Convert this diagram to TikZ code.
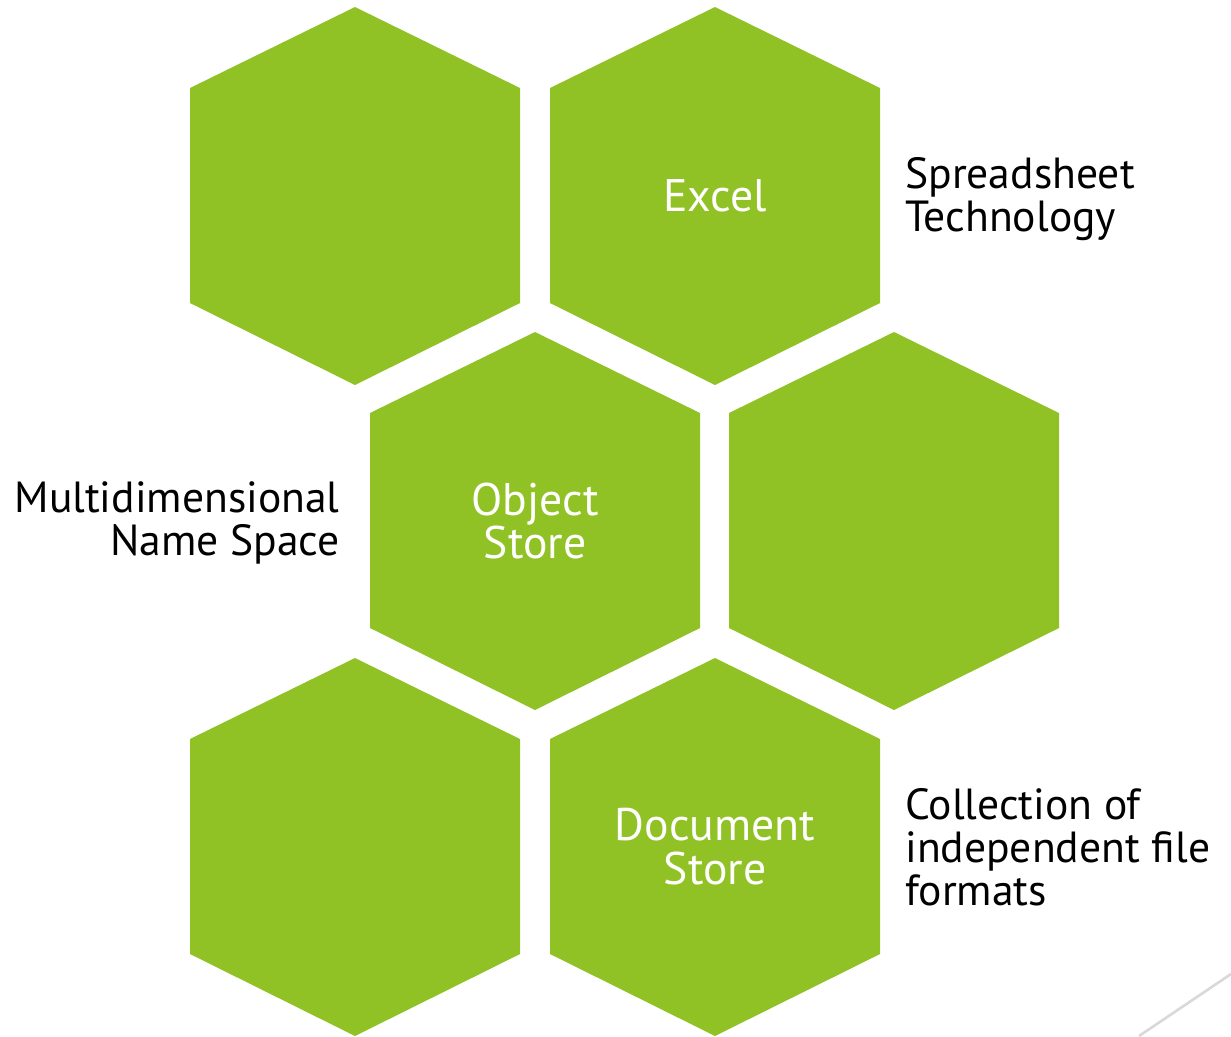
\documentclass[tikz,border=0pt]{standalone}
\usepackage{fontspec}
\setmainfont{PT Sans}
\usetikzlibrary{positioning}
\definecolor{facetgreen}{HTML}{90C226}
\definecolor{facetline}{HTML}{D9D9D9}
\tikzset{
    x=0.02cm, y=-0.02cm, % one unit is one pixel of the slide, y runs down
    node distance=3.8cm,
    hexcell/.style={fill=facetgreen}, % the green cells
    hextext/.style={text=white, align=center, inner sep=0pt, font=\fontsize{26}{25}\selectfont},
    sidetext/.style={text=black, inner sep=0pt, font=\fontsize{24.8}{24.6}\selectfont},
}
% name, centre, text
\newcommand{\hexcell}[3]{%
    \fill[hexcell] (#2) ++(0,-189) -- ++(165,81) -- ++(0,215) -- ++(-165,82) -- ++(-165,-82) -- ++(0,-215) -- cycle;
    \node[hextext] (#1) at (#2) {#3};
}

\begin{document}
\begin{tikzpicture}
        \useasboundingbox (0,0) rectangle (1231,1036);

        \hexcell{h1}{355,196}{}
        \hexcell{h2}{715,196}{Excel}
        \hexcell{h3}{535,521}{Object\\Store}
        \hexcell{h4}{894,521}{}
        \hexcell{h5}{355,847}{}
        \hexcell{h6}{715,847}{Document\\Store}

        \node[sidetext, align=left, anchor=west, right=3.8cm of h2.center, yshift=-0.06cm] (h2-right) {
            Spreadsheet\\
            Technology
        };
        \node[sidetext, align=right, anchor=east, left=3.9cm of h3.center, yshift=-0.04cm] (h3-left) {
            Multidimensional\\
            Name Space
        };
        \node[sidetext, align=left, anchor=west, right=3.8cm of h6.center] (h6-right) {
            Collection of\\
            independent file\\
            formats
        };

        % slide corner line
        \coordinate (c1) at (1139,1036);
        \coordinate (c2) at (1231,974);
        \draw[facetline, line width=1.5pt] (c1) -- (c2);
    \end{tikzpicture}
\end{document}
